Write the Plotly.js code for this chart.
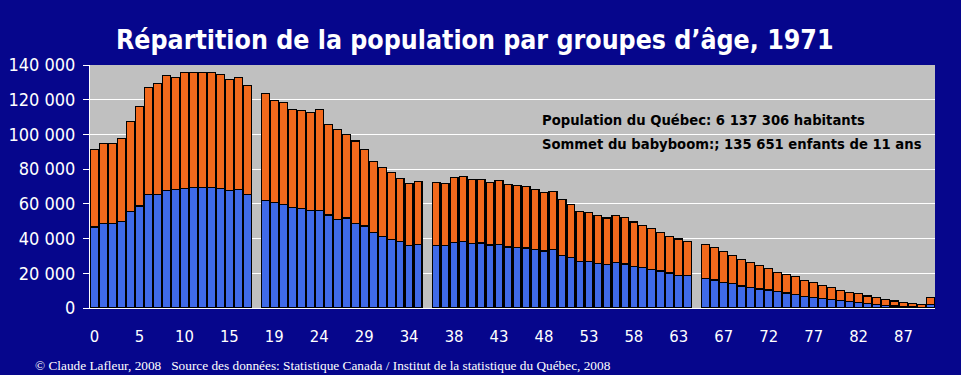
<!DOCTYPE html>
<html>
<head>
<meta charset="utf-8">
<script src="https://cdn.plot.ly/plotly-3.0.1.min.js"></script>
<style>html,body{margin:0;padding:0;background:#06068c;}#chart{width:961px;height:375px;}</style>
</head>
<body>
<div id="chart"></div>
<script>
// Age groups (gaps separate 0-17, 18-35, 36-64, 65+)
const ages0 = ["0","1","2","3","4","5","6","7","8","9","10","11","12","13","14","15","16","17"];
const ages1 = ["18","19","20","21","22","23","24","25","26","27","28","29","30","31","32","33","34","35"];
const ages2 = ["36","37","38","39","40","41","42","43","44","45","46","47","48","49","50","51","52","53","54","55","56","57","58","59","60","61","62","63","64"];
const ages3 = ["65","66","67","68","69","70","71","72","73","74","75","76","77","78","79","80","81","82","83","84","85","86","87","88","89","90+"];

// Blue (lower) segment, per age
const blue0 = [46700,48700,48700,50000,55800,58800,65600,65600,67700,68100,68800,69600,69200,69200,68700,67700,68100,65400];
const blue1 = [62100,60600,59600,57900,57100,56300,56300,53600,51000,51900,48500,47300,43500,41300,39600,38500,36200,36700];
const blue2 = [36000,36000,37900,38500,37100,37500,36300,36700,35200,35000,34600,33800,32900,33500,30400,29200,26900,26900,25600,25200,26000,25400,24000,23300,22300,21300,20200,18700,18500];
const blue3 = [17000,16100,14900,13900,12700,11600,11000,10400,9300,8700,7900,6800,6100,5500,4800,4300,3600,3300,2700,2000,1600,1100,900,700,500,2100];

// Totals (blue + orange), per age
const total0 = [91300,94800,94800,97700,107500,116200,127100,129400,134000,132900,135500,135651,135600,135500,134600,131700,132900,128300];
const total1 = [123600,119600,118500,114400,113800,112700,114400,105800,102900,100000,96200,91500,84200,81000,78100,74600,71700,72900];
const total2 = [72300,71700,75200,75800,74000,74000,72300,73500,71200,70600,70000,68300,66500,67100,62500,59600,55600,55000,53300,51900,53300,52100,49600,47400,45700,43300,41000,39800,38100];
const total3 = [36600,34800,32400,30200,27900,26200,24400,22700,20400,19200,18100,15800,14600,12900,11600,10000,8800,8300,6900,6000,4800,4000,3100,2400,1800,6000];

const gapLabels = [" ", "  ", "   "];
const xTickLabels = ["0","5","10","15","19","24","29","34","38","43","48","53","58","63","67","72","77","82","87"];
const yTickVals = [0,20000,40000,60000,80000,100000,120000,140000];
const yTickText = ["0","20 000","40 000","60 000","80 000","100 000","120 000","140 000"];

const titleText = "Répartition de la population par groupes d’âge, 1971";
const note1 = "Population du Québec: 6 137 306 habitants";
const note2 = "Sommet du babyboom:; 135 651 enfants de 11 ans";
const footer = "© Claude Lafleur, 2008   Source des données: Statistique Canada / Institut de la statistique du Québec, 2008";

// Build category sequence with gaps
const groups = [[ages0,blue0,total0],[ages1,blue1,total1],[ages2,blue2,total2],[ages3,blue3,total3]];
const cats = [], lower = [], upper = [];
groups.forEach((g, gi) => {
  g[0].forEach((a, i) => { cats.push(a); lower.push(g[1][i]); upper.push(g[2][i] - g[1][i]); });
  if (gi < gapLabels.length) { cats.push(gapLabels[gi]); lower.push(null); upper.push(null); }
});
const nCats = cats.length;

const lineStyle = {color: "#000000", width: 1.2};
const traces = [
  {type: "bar", x: cats, y: lower, marker: {color: "#3f6ae8", line: lineStyle}, hoverinfo: "x+y"},
  {type: "bar", x: cats, y: upper, marker: {color: "#f2691c", line: lineStyle}, hoverinfo: "x+y"}
];

const white = "#ffffff";
const tickFont = {family: "DejaVu Sans Condensed, DejaVu Sans, sans-serif", size: 18, color: white};
const layout = {
  width: 961, height: 375,
  paper_bgcolor: "#06068c",
  plot_bgcolor: "#c0c0c0",
  margin: {l: 90, r: 26, t: 65, b: 67},
  barmode: "stack",
  bargap: 0.12,
  showlegend: false,
  title: {
    text: "<b>" + titleText + "</b>",
    font: {family: "DejaVu Sans Condensed, DejaVu Sans, sans-serif", size: 26.5, color: white},
    x: 0.494, xanchor: "center", y: 0.893, yanchor: "middle"
  },
  xaxis: {
    type: "category",
    categoryorder: "array", categoryarray: cats,
    range: [-0.5, nCats - 0.5],
    tickmode: "array", tickvals: xTickLabels, ticktext: xTickLabels,
    ticks: "", showline: true, linecolor: white, linewidth: 1,
    showgrid: false, tickfont: {family: tickFont.family, size: 16.5, color: white},
    ticklabelstandoff: 13
  },
  xaxis2: {
    overlaying: "x", anchor: "y", side: "bottom",
    range: [-0.5, nCats - 0.5],
    tickmode: "linear", tick0: -0.5, dtick: 1,
    ticks: "outside", ticklen: 5, tickcolor: white, tickwidth: 1,
    showticklabels: false, showgrid: false, showline: false, zeroline: false
  },
  yaxis: {
    range: [0, 140000],
    tickmode: "array", tickvals: yTickVals, ticktext: yTickText,
    ticks: "outside", ticklen: 6, tickcolor: white,
    showline: true, linecolor: white, linewidth: 1,
    showgrid: true, gridcolor: white, gridwidth: 1,
    zeroline: false, tickfont: tickFont, ticklabelstandoff: 4
  },
  annotations: [
    {xref: "paper", yref: "paper", x: 0.533, y: (308 - 121) / 243, xanchor: "left", yanchor: "middle",
     text: "<b>" + note1 + "</b>", showarrow: false,
     font: {family: "DejaVu Sans, sans-serif", size: 13.2, color: "#000000"}},
    {xref: "paper", yref: "paper", x: 0.533, y: (308 - 144) / 243, xanchor: "left", yanchor: "middle",
     text: "<b>" + note2 + "</b>", showarrow: false,
     font: {family: "DejaVu Sans, sans-serif", size: 13.2, color: "#000000"}},
    {xref: "paper", yref: "paper", x: (33 - 90) / 845, y: (308 - 365) / 243, xanchor: "left", yanchor: "middle",
     text: footer, showarrow: false,
     font: {family: "Liberation Serif, serif", size: 13.3, color: white}}
  ]
};

Plotly.newPlot("chart", traces, layout, {displayModeBar: false, staticPlot: true});
</script>
</body>
</html>
